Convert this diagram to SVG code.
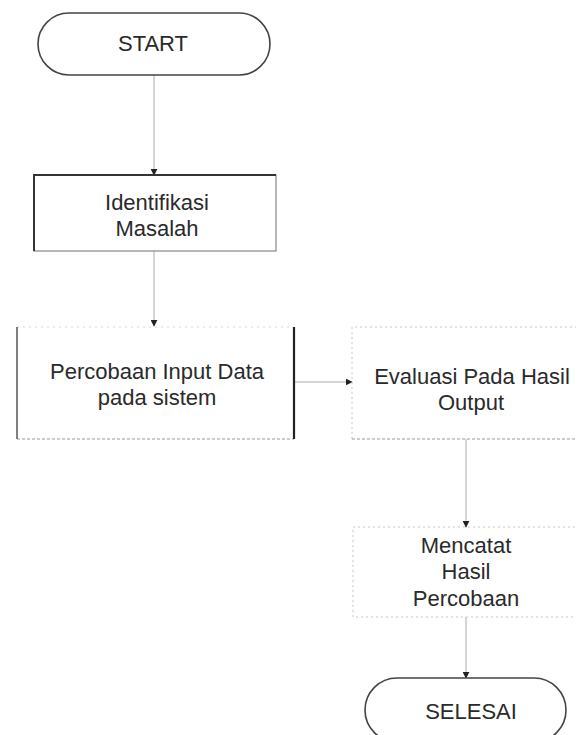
<svg xmlns="http://www.w3.org/2000/svg" width="576" height="735" viewBox="0 0 576 735">
<defs>
<style>
.t{font-family:"Liberation Sans",Arial,sans-serif;font-size:22px;fill:#2a2a2a;text-anchor:middle;dominant-baseline:central}
.term{fill:#fff;stroke:#444;stroke-width:1.6}
.dark{stroke:#333;stroke-width:2;fill:none}
.lite{stroke:#c8c8d0;stroke-width:1;stroke-dasharray:2 3;fill:none}
.mid{stroke:#999;stroke-width:1.2;stroke-dasharray:3 2;fill:none}
.c{stroke:#aaa;stroke-width:1;fill:none;marker-end:url(#ah)}
</style>
<marker id="ah" viewBox="0 0 10 10" refX="9" refY="5" markerWidth="7" markerHeight="7" markerUnits="userSpaceOnUse" orient="auto">
<path d="M0,0 L10,5 L0,10 z" fill="#222"/>
</marker>
</defs>
<rect width="576" height="735" fill="#fff"/>
<g id="connectors">
<line class="c" x1="154" y1="75" x2="154" y2="175"/>
<line class="c" x1="154" y1="251" x2="154" y2="326"/>
<line class="c" x1="295" y1="382" x2="352" y2="382"/>
<line class="c" x1="466" y1="439" x2="466" y2="527"/>
<line class="c" x1="466" y1="617" x2="466" y2="678"/>
</g>
<g id="start">
<rect class="term" x="38" y="13" width="232" height="62" rx="31" ry="31"/>
<text class="t" x="153" y="43">START</text>
</g>
<g id="identifikasi">
<rect x="34" y="175" width="242" height="76" fill="#fff" stroke="#888" stroke-width="1.2"/>
<path class="dark" d="M34,251 V175 H276"/>
<text class="t" x="157" y="202">Identifikasi</text>
<text class="t" x="157" y="228">Masalah</text>
</g>
<g id="percobaan">
<rect x="17" y="327" width="277" height="112" fill="#fff" stroke="none"/>
<line x1="17" y1="327" x2="294" y2="327" stroke="#c6dcec" stroke-width="1" stroke-dasharray="2 4"/>
<line x1="17" y1="439" x2="294" y2="439" class="mid"/>
<line x1="17" y1="327" x2="17" y2="439" stroke="#555" stroke-width="1.5"/>
<line x1="294" y1="327" x2="294" y2="439" stroke="#222" stroke-width="2.2"/>
<text class="t" x="157" y="371">Percobaan Input Data</text>
<text class="t" x="157" y="397">pada sistem</text>
</g>
<g id="evaluasi">
<path class="lite" d="M352,439 V327 H580"/>
<line x1="352" y1="439" x2="580" y2="439" class="mid"/>
<text class="t" x="472" y="376">Evaluasi Pada Hasil</text>
<text class="t" x="471" y="402">Output</text>
</g>
<g id="mencatat">
<rect class="lite" x="353" y="527" width="230" height="90"/>
<text class="t" x="466" y="545">Mencatat</text>
<text class="t" x="466" y="571">Hasil</text>
<text class="t" x="466" y="598">Percobaan</text>
</g>
<g id="selesai">
<rect class="term" x="365" y="678" width="201" height="64" rx="32" ry="32"/>
<text class="t" x="471" y="711">SELESAI</text>
</g>
</svg>
